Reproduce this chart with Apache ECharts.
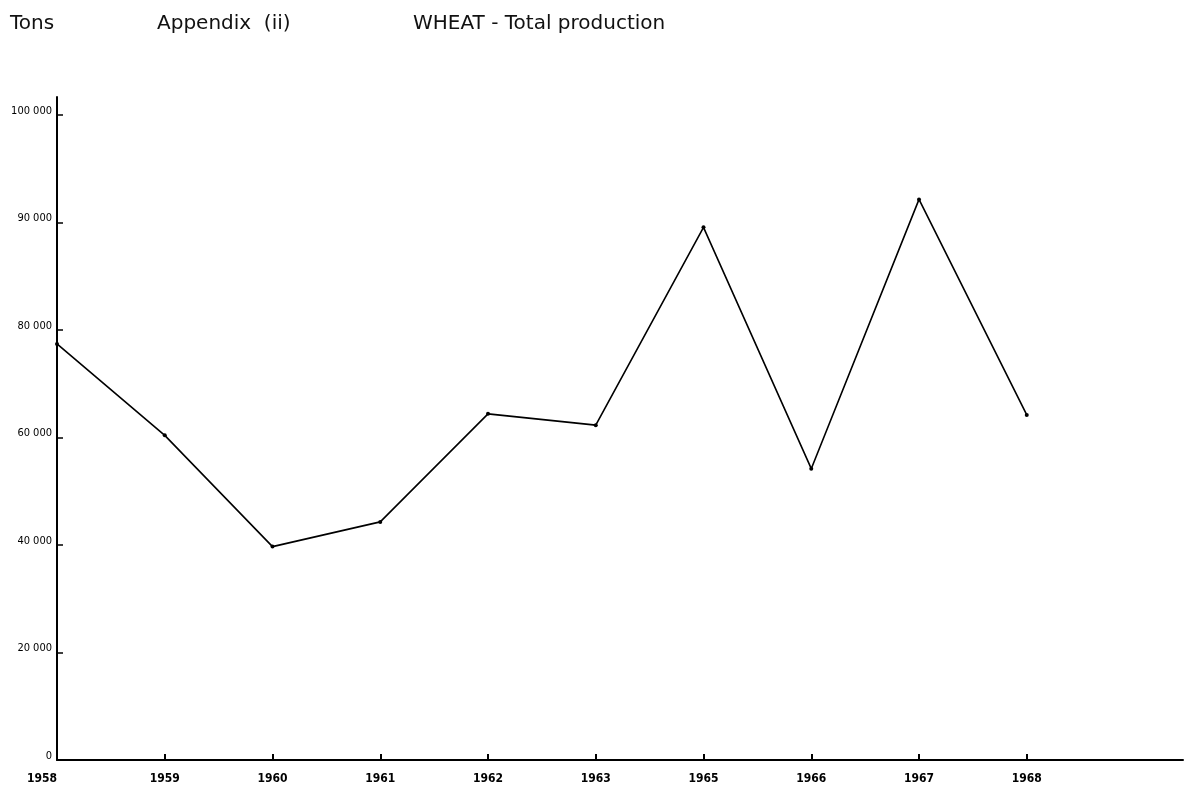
<!DOCTYPE html>
<html>
<head>
<meta charset="utf-8">
<script src="https://cdn.jsdelivr.net/npm/echarts@6/dist/echarts.min.js"></script>
<style>
  html, body { margin: 0; padding: 0; background: #ffffff; }
  #chart { width: 1192px; height: 789px; }
</style>
</head>
<body>
<div id="chart"></div>
<script>
// Categories (years) along the x axis, equally spaced as in the original
const years = ['1958', '1959', '1960', '1961', '1962', '1963', '1965', '1966', '1967', '1968'];
// Total wheat production, in units of the evenly spaced vertical scale
const production = [77400, 60400, 39700, 44300, 64400, 62300, 99100, 54200, 104300, 64200];
// Evenly spaced tick positions on the vertical scale and the labels printed at them
const yTickValues = [0, 20000, 40000, 60000, 80000, 100000, 120000];
const yTickLabels = ['0', '20 000', '40 000', '60 000', '80 000', '90 000', '100 000'];

const chart = echarts.init(document.getElementById('chart'), null, { renderer: 'canvas' });
const narrow = '"Liberation Sans Narrow", "DejaVu Sans Condensed", "Liberation Sans", sans-serif';
const titleFont = '"DejaVu Sans", sans-serif';
const titleStyle = { fontFamily: titleFont, fontSize: 20, fontWeight: 'normal', color: '#111' };

const option = {
  backgroundColor: '#ffffff',
  animation: false,
  title: [
    { text: 'Tons', left: 10, top: 14, padding: 0, textStyle: titleStyle },
    { text: 'Appendix  (ii)', left: 157, top: 14, padding: 0, textStyle: titleStyle },
    { text: 'WHEAT - Total production', left: 413, top: 14, padding: 0, textStyle: titleStyle }
  ],
  grid: { left: 57, right: 9, top: 97, bottom: 29, containLabel: false },
  xAxis: {
    type: 'value',
    min: 0,
    max: 10.45,
    interval: 1,
    splitLine: { show: false },
    axisLine: { show: true, lineStyle: { color: '#000', width: 2 } },
    axisTick: { show: true, inside: true, length: 6, customValues: [1, 2, 3, 4, 5, 6, 7, 8, 9], lineStyle: { color: '#000', width: 2 } },
    axisLabel: {
      customValues: [0, 1, 2, 3, 4, 5, 6, 7, 8, 9],
      formatter: v => years[Math.round(v)] || '',
      margin: 13,
      fontFamily: narrow,
      fontWeight: 'bold',
      fontSize: 12,
      color: '#000',
      alignMinLabel: 'right'
    }
  },
  yAxis: {
    type: 'value',
    min: 0,
    max: 123350,
    splitLine: { show: false },
    axisLine: { show: true, lineStyle: { color: '#000', width: 2 } },
    axisTick: { show: true, inside: true, length: 6, customValues: yTickValues, lineStyle: { color: '#000', width: 1.5 } },
    axisLabel: {
      customValues: yTickValues,
      formatter: v => yTickLabels[yTickValues.indexOf(v)] || '',
      margin: 5,
      fontFamily: narrow,
      fontSize: 11,
      lineHeight: 8,
      color: '#000',
      verticalAlign: 'bottom'
    }
  },
  series: [{
    type: 'line',
    data: production.map((v, i) => [i, v]),
    symbol: 'circle',
    symbolSize: 4,
    itemStyle: { color: '#000' },
    lineStyle: { color: '#000', width: 1.6 },
    z: 5
  }]
};
chart.setOption(option);
</script>
</body>
</html>
